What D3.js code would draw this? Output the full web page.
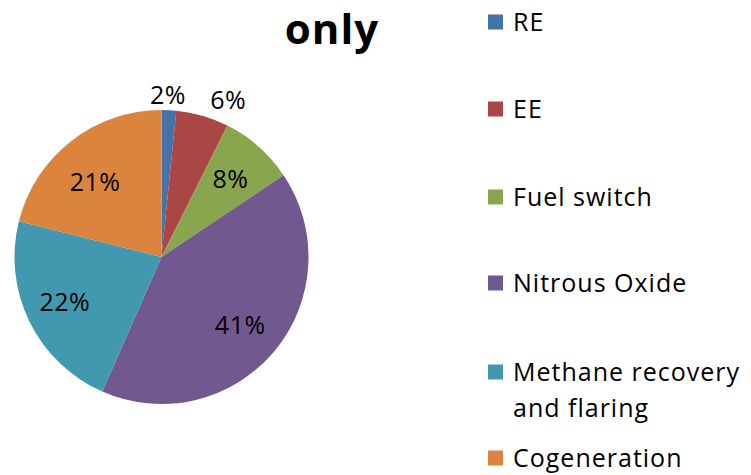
<!DOCTYPE html>
<html><head><meta charset="utf-8">
<script src="https://cdn.jsdelivr.net/npm/d3@7"></script>
<style>body{margin:0;background:#fff}svg{display:block}</style>
</head><body>
<svg id="c" width="751" height="475"></svg>
<script>
const categories = ["RE","EE","Fuel switch","Nitrous Oxide","Methane recovery and flaring","Cogeneration"];
const values = [1.6, 5.8, 8.2, 41.0, 22.3, 21.1];
const colors = ["#4572A7","#AA4643","#89A54E","#71588F","#4198AF","#DB843D"];
const legendLines = [["RE"],["EE"],["Fuel switch"],["Nitrous Oxide"],["Methane recovery","and flaring"],["Cogeneration"]];
const titleText = "only";

const svg = d3.select("#c");
const font = "'Open Sans', Lato, sans-serif";
const cx = 161.5, cy = 257, r = 147;

svg.append("text").attr("x", 332).attr("y", 44).attr("text-anchor","middle")
  .attr("font-family", font).attr("font-weight","bold").attr("font-size", 42)
  .attr("letter-spacing", 1).attr("fill","#000").text(titleText);

const pie = d3.pie().sort(null).value(d => d)(values);
const arc = d3.arc().innerRadius(0).outerRadius(r);
const g = svg.append("g").attr("transform", `translate(${cx},${cy})`);
g.selectAll("path").data(pie).join("path").attr("d", arc).attr("fill", (d,i) => colors[i]);

const total = d3.sum(values);
// label placement (radius factor, angle shift in degrees)
const labelR = [1.10, 1.16, 0.71, 0.707, 0.725, 0.68];
const labelShift = [-0.6, 6.8, 0, 0.8, 1.1, -3.6];
g.selectAll("text.lbl").data(pie).join("text").attr("class","lbl")
  .attr("transform", (d,i) => {
    const a = (d.startAngle + d.endAngle)/2 + labelShift[i]*Math.PI/180;
    return `translate(${Math.sin(a)*labelR[i]*r},${-Math.cos(a)*labelR[i]*r})`;
  })
  .attr("text-anchor","middle").attr("dy","0.36em")
  .attr("font-family", font).attr("font-size", 25).attr("letter-spacing", 0.5).attr("fill","#000")
  .text(d => Math.round(d.data/total*100) + "%");

const lg = svg.append("g");
const rowY = [22, 109, 197, 283, 372, 458];
legendLines.forEach((lines, i) => {
  lg.append("rect").attr("x", 488).attr("y", rowY[i]-7.5).attr("width", 15).attr("height", 15).attr("fill", colors[i]);
  lines.forEach((t, j) => {
    lg.append("text").attr("x", 513).attr("y", rowY[i] + j*36).attr("dy","0.36em")
      .attr("font-family", font).attr("font-size", 25).attr("letter-spacing", 1).attr("fill","#000").text(t);
  });
});
</script>
</body></html>
